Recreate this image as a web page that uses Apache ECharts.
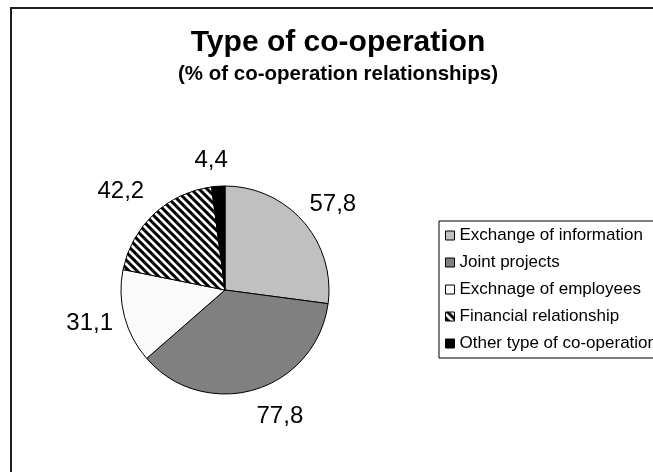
<!DOCTYPE html>
<html>
<head>
<meta charset="utf-8">
<script src="https://cdn.jsdelivr.net/npm/echarts@6/dist/echarts.min.js"></script>
<style>
  html, body { margin: 0; padding: 0; background: #fff; }
  #chart { width: 653px; height: 472px; }
</style>
</head>
<body>
<div id="chart"></div>
<script>
// ---- data ----
const titleText = 'Type of co-operation';
const subtitleText = '(% of co-operation relationships)';
const categories = [
  'Exchange of information',
  'Joint projects',
  'Exchnage of employees',
  'Financial relationship',
  'Other type of co-operation'
];
const values = [57.8, 77.8, 31.1, 42.2, 4.4];

// ---- styles (kept apart from the data) ----
function hatchPattern() {
  const c = document.createElement('canvas');
  const p = 8;
  c.width = p; c.height = p;
  const ctx = c.getContext('2d');
  ctx.fillStyle = '#fff';
  ctx.fillRect(0, 0, p, p);
  ctx.fillStyle = '#000';
  for (let k = -2; k <= 2; k++) {
    ctx.beginPath();
    ctx.moveTo(k * p, 0);
    ctx.lineTo(k * p + 4.2, 0);
    ctx.lineTo(k * p + 4.2 + p, p);
    ctx.lineTo(k * p + p, p);
    ctx.closePath();
    ctx.fill();
  }
  return { image: c, repeat: 'repeat' };
}
const fills = ['#c0c0c0', '#808080', '#fafafa', hatchPattern(), '#000000'];
// small nudges so the value labels sit where the original places them
const labelNudges = [[4, 5], [15, -6], [-2, -2], [-10, 2], [-5, 8]];
const FONT = '"Liberation Sans", Arial, Helvetica, sans-serif';

const chart = echarts.init(document.getElementById('chart'), null, { renderer: 'canvas' });

const pieData = categories.map((name, i) => ({
  name: name,
  value: values[i],
  itemStyle: { color: fills[i] }
}));
const labelData = categories.map((name, i) => ({
  name: name,
  value: values[i],
  label: { offset: labelNudges[i] }
}));

const center = [225, 290];

chart.setOption({
  animation: false,
  backgroundColor: '#fff',
  graphic: [{
    type: 'rect',
    shape: { x: 11, y: 8, width: 1000, height: 1000 },
    style: { fill: 'none', stroke: '#1e1e1e', lineWidth: 2 },
    silent: true,
    z: 100
  }],
  title: [{
    text: titleText,
    left: 338,
    top: 28,
    textAlign: 'center',
    padding: 0,
    textStyle: { fontFamily: FONT, fontSize: 30, fontWeight: 'bold', color: '#000' }
  }, {
    text: subtitleText,
    left: 338,
    top: 64,
    textAlign: 'center',
    padding: 0,
    textStyle: { fontFamily: FONT, fontSize: 20.5, fontWeight: 'bold', color: '#000' }
  }],
  legend: {
    orient: 'vertical',
    left: 439,
    top: 221,
    padding: [6, 40, 6, 6],
    itemWidth: 9,
    itemHeight: 9,
    itemGap: 10,
    itemTextGap: 6,
    icon: 'rect',
    borderColor: '#000',
    borderWidth: 1,
    selectedMode: false,
    data: categories,
    itemStyle: { borderColor: '#000', borderWidth: 1 },
    textStyle: { fontFamily: FONT, fontSize: 17, color: '#000' }
  },
  series: [{
    type: 'pie',
    center: center,
    radius: [0, 104],
    startAngle: 90,
    clockwise: true,
    silent: true,
    emphasis: { disabled: true },
    label: { show: false },
    labelLine: { show: false },
    itemStyle: { borderColor: '#000', borderWidth: 1 },
    data: pieData
  }, {
    type: 'pie',
    center: center,
    radius: [0, 270],
    startAngle: 90,
    clockwise: true,
    silent: true,
    emphasis: { disabled: true },
    itemStyle: { color: 'rgba(0,0,0,0)', borderWidth: 0 },
    label: {
      show: true,
      position: 'inside',
      fontFamily: FONT,
      fontSize: 24,
      color: '#000',
      formatter: p => p.value.toFixed(1).replace('.', ',')
    },
    labelLine: { show: false },
    data: labelData
  }]
});
</script>
</body>
</html>
